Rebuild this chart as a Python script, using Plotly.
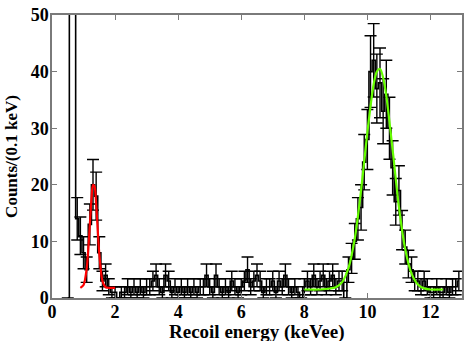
import numpy as np
import plotly.graph_objects as go

# histogram, 0.1 keV bins (bin centres 0.5 .. 12.9)
bin_centers = np.round(np.arange(0.5, 12.95, 0.1), 2)
counts = [0, 90, 70, 14, 11, 8, 5, 13, 20, 18, 8, 3, 4, 2, 1,
          1, 0, 1, 1, 2, 1, 2, 1, 2, 1,
          2, 2, 3, 4, 2, 1, 4, 3, 1, 2,
          1, 2, 1, 2, 1, 2, 1, 2, 2, 4,
          2, 1, 4, 2, 1, 2, 1, 3, 2, 1,
          2, 3, 5, 2, 3, 4, 3, 1, 2, 2,
          3, 1, 3, 2, 4, 2, 1, 2, 1, 0,
          2, 3, 2, 4, 2, 3, 4, 2, 3, 4,
          2, 3, 3, 0, 5, 7, 10, 14, 16, 24,
          28, 40, 42, 37, 38, 33, 36, 30, 23, 17,
          19, 12, 9, 6, 5, 3, 3, 2, 3, 2,
          1, 1, 2, 1, 1, 2, 1, 2, 2, 3]
errors = np.sqrt(counts)

# fitted peaks
red_x = [0.9, 1.0, 1.1, 1.2, 1.25, 1.3, 1.35, 1.4, 1.5, 1.6, 1.7, 1.8, 2.0]
red_y = [1.8, 2.3, 5.2, 13.0, 17.4, 20.0, 19.7, 16.6, 7.8, 3.0, 1.9, 1.8, 1.8]
green_x = [8.0, 8.5, 9.0, 9.2, 9.4, 9.6, 9.8, 10.0, 10.2, 10.3, 10.4, 10.5,
           10.6, 10.8, 11.0, 11.2, 11.4, 11.6, 11.8, 12.0, 12.4]
green_y = [1.5, 1.5, 1.9, 2.8, 5.3, 10.5, 19.0, 29.3, 37.8, 40.0, 40.5, 38.9,
           35.7, 26.2, 16.1, 8.6, 4.3, 2.4, 1.7, 1.5, 1.5]

fig = go.Figure()
fig.add_trace(go.Scatter(x=bin_centers, y=counts, mode='lines',
                         line=dict(color='black', width=1.6, shape='hvh'),
                         error_y=dict(type='data', array=errors, color='black',
                                      thickness=1.4, width=6)))
fig.add_trace(go.Scatter(x=red_x, y=red_y, mode='lines',
                         line=dict(color='#ff0000', width=2.2, shape='spline', smoothing=0.8)))
fig.add_trace(go.Scatter(x=green_x, y=green_y, mode='lines',
                         line=dict(color='#66ff00', width=2.2, shape='spline', smoothing=0.8)))

axis_font = dict(family='Liberation Serif', size=18, color='black', weight='bold')
fig.update_layout(
    width=467, height=341,
    margin=dict(l=52, r=5, t=15, b=43),
    plot_bgcolor='white', paper_bgcolor='white',
    showlegend=False,
    font=axis_font,
    xaxis=dict(range=[0, 13], tickvals=[0, 2, 4, 6, 8, 10, 12],
               showgrid=False, zeroline=False, automargin=False,
               showline=True, linecolor='#7a7a7a', linewidth=1.5, mirror='ticks',
               ticks='inside', ticklen=5, tickcolor='#7a7a7a',
               tickfont=axis_font, ticklabelstandoff=-3),
    yaxis=dict(range=[0, 50], tickvals=[0, 10, 20, 30, 40, 50],
               showgrid=False, zeroline=False, automargin=False,
               showline=True, linecolor='#7a7a7a', linewidth=1.5, mirror='ticks',
               ticks='inside', ticklen=5, tickcolor='#7a7a7a',
               tickfont=axis_font, ticklabelstandoff=-2,
               title=dict(text='Counts/(0.1 keV)',
                          font=dict(family='Liberation Serif', size=17, color='black', weight='bold'),
                          standoff=9)),
)
# x title placed just under the tick labels
fig.add_annotation(text='Recoil energy (keVee)', xref='paper', yref='paper',
                   x=0.5, y=0, yshift=-34, yanchor='middle', showarrow=False,
                   font=dict(family='Liberation Serif', size=19, color='black', weight='bold'))

# drop the browser's default page margin so the figure sits at the window corner
fig.write_html("out.html", config={'displayModeBar': False},
               post_script="document.body.style.margin='0';")
